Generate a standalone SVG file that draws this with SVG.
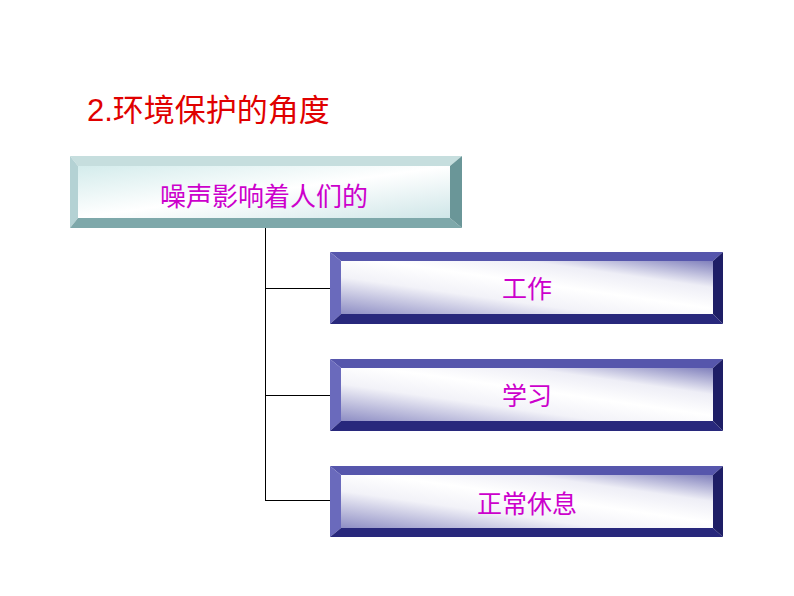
<svg xmlns="http://www.w3.org/2000/svg" width="794" height="596" viewBox="0 0 794 596">
<defs>
<style>
.lbl{font-family:"Noto Sans CJK SC","Noto Sans CJK TC",sans-serif;font-size:25px;fill:#cc00cc;text-anchor:middle}
.title{font-family:"Liberation Sans","Noto Sans CJK SC",sans-serif;font-size:31px;fill:#e00000}
.conn{stroke:#000;stroke-width:1;fill:none}
</style>
<linearGradient id="cyanFace" x1="0" y1="0" x2="1" y2="1">
<stop offset="0" stop-color="#d4ecec"/>
<stop offset="0.5" stop-color="#ffffff"/>
<stop offset="1" stop-color="#cfe6e8"/>
</linearGradient>
<linearGradient id="blueFace" x1="0" y1="1" x2="1" y2="0">
<stop offset="0" stop-color="#8e8ec4"/>
<stop offset="0.35" stop-color="#f2f2f8"/>
<stop offset="0.55" stop-color="#ffffff"/>
<stop offset="0.75" stop-color="#eeeef6"/>
<stop offset="1" stop-color="#8080bc"/>
</linearGradient>
</defs>
<rect width="794" height="596" fill="#ffffff"/>
<text class="title" x="87" y="121">2.环境保护的角度</text>
<g id="connectors">
<path class="conn" d="M265.5 228 V500.5 M265 288.5 H330 M265 395.5 H330 M265 500.5 H330"/>
</g>
<g id="node-main">
<polygon points="70,156 462,156 450,166 78,166" fill="#c6dede"/>
<polygon points="70,156 78,166 78,218 70,228" fill="#b4d2d4"/>
<polygon points="70,228 78,218 450,218 462,228" fill="#7ea8aa"/>
<polygon points="462,156 462,228 450,218 450,166" fill="#6a9698"/>
<rect x="78" y="166" width="372" height="52" fill="url(#cyanFace)"/>
<text class="lbl" x="264" y="206" style="font-size:26px">噪声影响着人们的</text>
</g>
<g id="node-work">
<polygon points="330,252 723,252 713,261 341,261" fill="#5656ac"/>
<polygon points="330,252 341,261 341,314 330,324" fill="#6a6abc"/>
<polygon points="330,324 341,314 713,314 723,324" fill="#28287c"/>
<polygon points="723,252 723,324 713,314 713,261" fill="#1e1e66"/>
<rect x="341" y="261" width="372" height="53" fill="url(#blueFace)"/>
<text class="lbl" x="527" y="298">工作</text>
</g>
<g id="node-study">
<polygon points="330,359 723,359 713,368 341,368" fill="#5656ac"/>
<polygon points="330,359 341,368 341,421 330,431" fill="#6a6abc"/>
<polygon points="330,431 341,421 713,421 723,431" fill="#28287c"/>
<polygon points="723,359 723,431 713,421 713,368" fill="#1e1e66"/>
<rect x="341" y="368" width="372" height="53" fill="url(#blueFace)"/>
<text class="lbl" x="527" y="405">学习</text>
</g>
<g id="node-rest">
<polygon points="330,466 723,466 713,475 341,475" fill="#5656ac"/>
<polygon points="330,466 341,475 341,528 330,537" fill="#6a6abc"/>
<polygon points="330,537 341,528 713,528 723,537" fill="#28287c"/>
<polygon points="723,466 723,537 713,528 713,475" fill="#1e1e66"/>
<rect x="341" y="475" width="372" height="53" fill="url(#blueFace)"/>
<text class="lbl" x="527" y="513">正常休息</text>
</g>
</svg>
